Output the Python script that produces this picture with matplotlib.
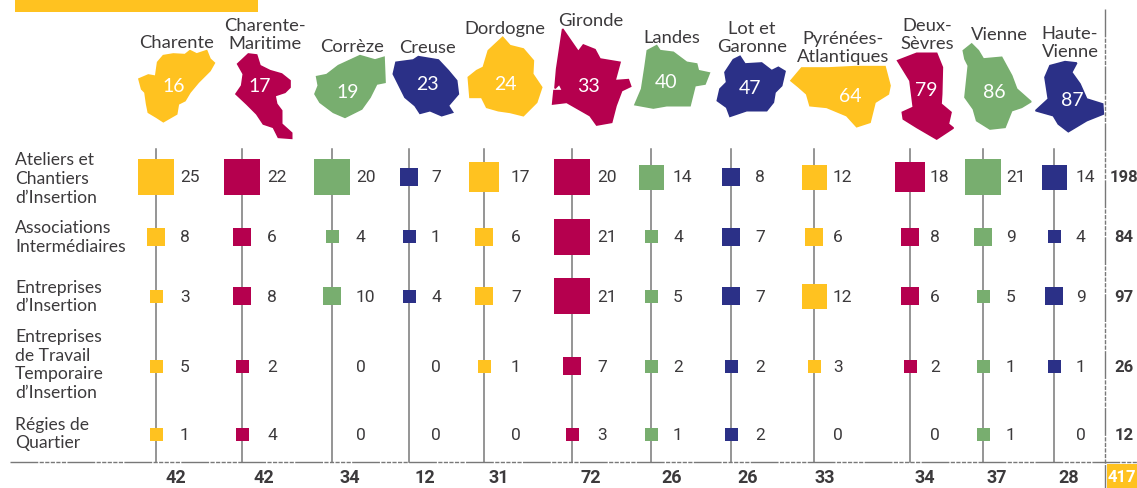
import numpy as np
import matplotlib.pyplot as plt
from matplotlib.patches import Polygon, Rectangle

YELLOW = "#FFC220"
RED = "#B5004E"
GREEN = "#78AE6F"
BLUE = "#2B3087"
GREY = "#787878"
DARK = "#3C3A3C"

# data
departements = ["Charente", "Charente-\nMaritime", "Corrèze", "Creuse", "Dordogne", "Gironde",
                "Landes", "Lot et\nGaronne", "Pyrénées-\nAtlantiques", "Deux-\nSèvres", "Vienne", "Haute-\nVienne"]
numeros = ["16", "17", "19", "23", "24", "33", "40", "47", "64", "79", "86", "87"]
structures = ["Ateliers et\nChantiers\nd’Insertion", "Associations\nIntermédiaires", "Entreprises\nd’Insertion",
              "Entreprises\nde Travail\nTemporaire\nd’Insertion", "Régies de\nQuartier"]
aci = [25, 22, 20, 7, 17, 20, 14, 8, 12, 18, 21, 14]
ai = [8, 6, 4, 1, 6, 21, 4, 7, 6, 8, 9, 4]
ei = [3, 8, 10, 4, 7, 21, 5, 7, 12, 6, 5, 9]
ett = [5, 2, 0, 0, 1, 7, 2, 2, 3, 2, 1, 1]
rq = [1, 4, 0, 0, 0, 3, 1, 2, 0, 0, 1, 0]
total_dep = [42, 42, 34, 12, 31, 72, 26, 26, 33, 34, 37, 28]
total_struct = [198, 84, 97, 26, 12]
total = 417

# layout, in pixels of the picture
couleurs = [YELLOW, RED, GREEN, BLUE, YELLOW, RED, GREEN, BLUE, YELLOW, RED, GREEN, BLUE]
col_x = [156, 242, 332, 409, 484, 572, 651, 731, 814, 910, 983, 1054]
val_x = [180, 267, 356, 431, 511, 597, 673, 755, 833, 930, 1006, 1076]
tot_x = [176, 264, 350, 425, 499, 591, 672, 748, 825, 925, 997, 1069]
row_y = [178, 237.5, 297, 367, 435]
label_y = [179, 237.5, 297, 365, 434]
nom_xy = [(177, 43), (265, 35), (352, 47), (427, 48), (505, 29), (591, 21),
          (672, 38), (752, 38), (843, 48), (927, 35), (999, 35), (1070, 43)]
num_xy = [(174, 87), (260, 87), (348, 92), (427, 85), (505, 85), (589, 87),
          (666, 83), (750, 89), (850, 96), (926, 91), (994, 93), (1072, 100)]

# silhouettes des départements, relevées à l'échelle 3 depuis chaque origine
origines = [(135, 50), (135, 50), (310, 35), (310, 35), (310, 35), (540, 10),
            (630, 40), (630, 40), (785, 45), (785, 45), (955, 40), (955, 40)]
cartes = [
    [(12,90),(40,78),(62,82),(68,40),(85,20),(115,15),(150,17),(165,5),(185,15),(215,5),(225,30),(238,42),(225,65),(205,85),(190,100),(165,130),(150,155),(130,165),(125,195),(85,218),(65,205),(40,190),(35,165),(30,130),(20,120)],
    [(340,15),(365,18),(375,50),(405,65),(440,75),(465,95),(465,115),(450,130),(420,140),(425,165),(440,185),(440,225),(470,252),(470,268),(430,265),(415,235),(385,225),(365,195),(335,165),(303,135),(320,110),(325,75),(308,45)],
    [(20,128),(50,122),(85,95),(150,65),(195,78),(222,70),(225,145),(200,150),(180,190),(155,225),(105,250),(70,235),(30,205),(15,180),(25,155)],
    [(258,85),(310,78),(325,68),(385,78),(415,110),(440,140),(445,180),(415,215),(428,235),(395,245),(360,230),(330,238),(315,215),(285,190),(250,120)],
    [(578,10),(600,35),(640,45),(670,80),(668,120),(695,160),(680,205),(640,245),(600,235),(565,230),(530,220),(515,190),(480,190),(475,130),(500,110),(520,100),(535,50)],
    [(68,60),(115,128),(130,108),(165,122),(180,150),(240,160),(225,215),(265,212),(272,232),(245,245),(228,290),(215,340),(170,348),(150,320),(80,280),(38,285),(42,245),(68,245),(58,225),(45,238),(50,180)],
    [(52,35),(80,20),(90,35),(130,40),(170,70),(200,75),(205,95),(238,102),(225,135),(195,140),(180,200),(110,200),(70,207),(15,197),(35,150),(45,85)],
    [(310,62),(330,52),(345,75),(395,72),(425,95),(445,85),(465,97),(455,140),(435,160),(430,190),(410,215),(350,215),(300,232),(290,205),(262,185),(270,150),(290,130),(285,100)],
    [(18,110),(50,72),(130,72),(210,68),(300,68),(315,125),(310,150),(270,175),(255,235),(215,248),(185,215),(125,190),(75,185),(65,150),(40,128)],
    [(338,50),(395,28),(455,28),(472,70),(470,150),(468,180),(498,205),(490,240),(505,252),(455,285),(395,250),(355,225),(352,205),(385,190),(375,110)],
    [(25,35),(50,15),(70,35),(85,60),(140,55),(170,110),(185,150),(228,188),(200,205),(170,215),(150,265),(105,270),(65,245),(55,210),(30,175),(40,80),(30,60)],
    [(285,80),(330,68),(365,72),(350,100),(375,135),(395,180),(443,195),(445,225),(395,245),(340,278),(310,255),(295,230),(242,215),(280,180),(270,115)],
]


def cote(v):
    # les carrés n'ont que quelques tailles, par classe d'effectif
    return [13, 18, 25, 30, 36][np.digitize(v, [6, 11, 16, 20])]


plt.rcParams["font.family"] = ["Lato", "DejaVu Sans"]
chiffres = ["Roboto", "DejaVu Sans"]

fig = plt.figure(figsize=(11.37, 4.89), dpi=100)
ax = fig.add_axes([0, 0, 1, 1])
ax.set_xlim(0, 1137)
ax.set_ylim(489, 0)
ax.axis("off")

ax.add_patch(Rectangle((15, 0), 243, 13, color=YELLOW, lw=0))

for i, pts in enumerate(cartes):
    x0, y0 = origines[i]
    xy = [(x0 + x / 3, y0 + y / 3) for x, y in pts]
    ax.add_patch(Polygon(xy, closed=True, color=couleurs[i], lw=1.2, zorder=2))
    ax.text(num_xy[i][0], num_xy[i][1], numeros[i], color="white", fontsize=14, ha="center", va="center", zorder=3)
    ax.text(nom_xy[i][0], nom_xy[i][1], departements[i], color=DARK, fontsize=13.2, ha="center", va="center",
            linespacing=1.1, zorder=4)

for y, lab in zip(label_y, structures):
    ax.text(15, y, lab, color=DARK, fontsize=12.6, ha="left", va="center", linespacing=1.2)

for x in col_x:
    ax.plot([x, x], [150, 463], color=GREY, lw=1.1, zorder=1)

lignes = [aci, ai, ei, ett, rq]
for y, valeurs, somme in zip(row_y, lignes, total_struct):
    for x, vx, v, c in zip(col_x, val_x, valeurs, couleurs):
        if v > 0:
            s = cote(v)
            ax.add_patch(Rectangle((x - s / 2, y - s / 2), s, s, color=c, lw=0, zorder=2))
        ax.text(vx, y, str(v), color=DARK, fontsize=12.5, family=chiffres, ha="left", va="center")
    ax.text(1124, y, str(somme), color=DARK, fontsize=12, family=chiffres, weight="bold", ha="center", va="center")

for x, v in zip(tot_x, total_dep):
    ax.text(x, 478, str(v), color=DARK, fontsize=13, family=chiffres, weight="bold", ha="center", va="center")

# filets du bas et de droite, mi-pleins mi-tiretés
tirets = (0, (20, 1, 3, 1, 3, 1, 3, 1, 3, 1, 3, 1))
ax.plot([10, 1137], [463, 463], color=GREY, lw=1.0, ls=tirets, zorder=1)
ax.plot([1105, 1105], [10, 489], color=GREY, lw=1.0, ls=tirets, zorder=1)

ax.add_patch(Rectangle((1107, 465), 30, 24, color=YELLOW, lw=0))
ax.text(1122, 478, str(total), color="white", fontsize=12, family=chiffres, weight="bold", ha="center", va="center")

fig.savefig("out.png", dpi=100)
